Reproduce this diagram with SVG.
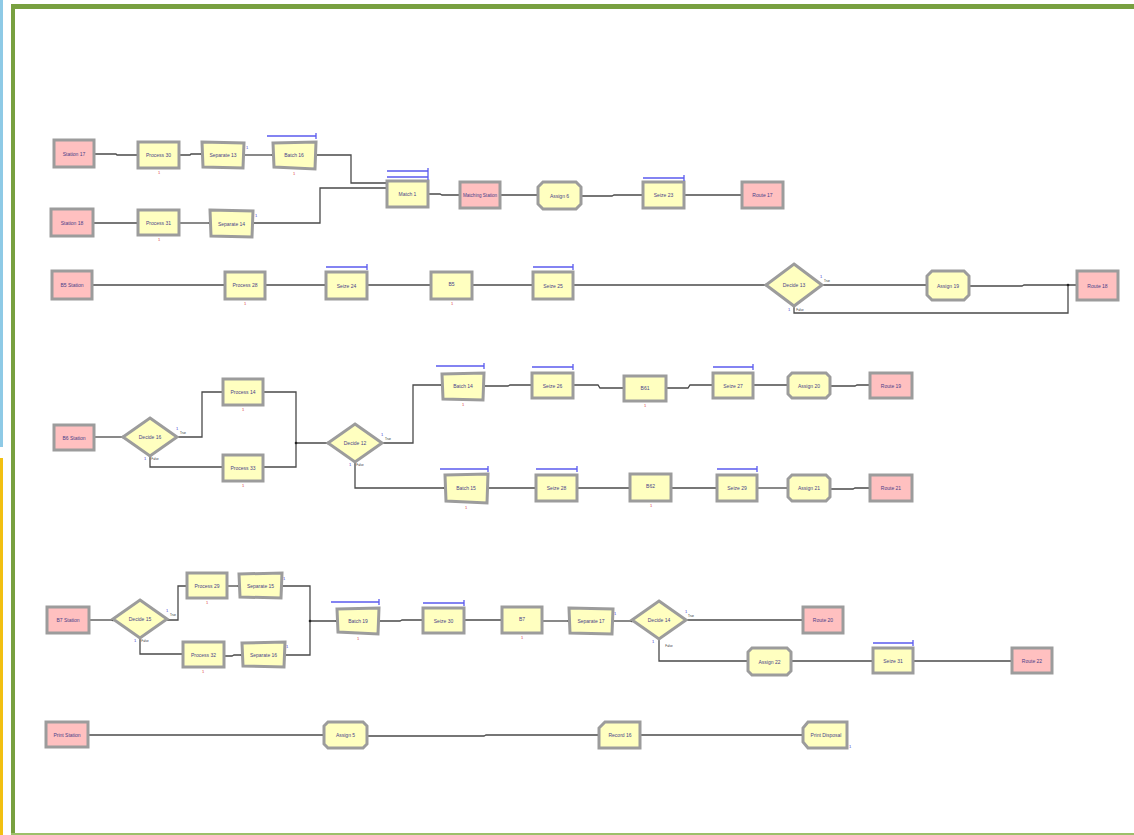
<svg xmlns="http://www.w3.org/2000/svg" width="1134" height="835" viewBox="0 0 1134 835">
<style>
.y{fill:#ffffc0;stroke:#9c9c9c;stroke-width:3}
.p{fill:#ffc0c0;stroke:#9c9c9c;stroke-width:3}
.t{font-family:"Liberation Sans",Arial,sans-serif;font-size:5px;fill:#4a3f88;text-anchor:middle;dominant-baseline:central}
.c{fill:none;stroke:#4a4a4a;stroke-width:1.3;marker-end:url(#dot)}
.q{fill:none;stroke:#5a5aee;stroke-width:1.3}
.r{font-family:"Liberation Sans",Arial,sans-serif;font-size:4px;fill:#e04040;text-anchor:middle}
.b{font-family:"Liberation Sans",Arial,sans-serif;font-size:4px;fill:#4040cc;text-anchor:middle}
.s{font-family:"Liberation Sans",Arial,sans-serif;font-size:3px;fill:#333;text-anchor:middle}
</style>
<defs>
<marker id="dot" markerUnits="userSpaceOnUse" markerWidth="4" markerHeight="4" refX="2" refY="2"><circle cx="2" cy="2" r="1.3" fill="#222"/></marker>
</defs>
<rect width="1134" height="835" fill="#ffffff"/>
<g id="frame">
<rect x="0" y="0" width="3" height="447" fill="#8ecae6"/>
<rect x="0" y="458" width="3" height="377" fill="#f2c012"/>
<rect x="11" y="4" width="1123" height="5" fill="#78a040"/>
<rect x="11" y="4" width="4" height="831" fill="#78a040"/>
<rect x="11" y="833" width="1123" height="2" fill="#9cc06a"/>
</g>
<g id="connectors">
<path class="c" d="M94,154 H116 L117,155 H138"/>
<path class="c" d="M179,155 H190 L191,154 H202"/>
<path class="c" d="M244,155 H273"/>
<path class="c" d="M316,155 H351 V183 H387"/>
<path class="c" d="M93,223 H138"/>
<path class="c" d="M179,223 H210"/>
<path class="c" d="M253,223 H320 V188 H387"/>
<path class="c" d="M428,194 H440 L442,195 H460"/>
<path class="c" d="M500,195 H538"/>
<path class="c" d="M581,196 H612 L614,195 H643"/>
<path class="c" d="M684,195 H742"/>
<path class="c" d="M92,285 H225"/>
<path class="c" d="M265,285 H326"/>
<path class="c" d="M367,285 H431"/>
<path class="c" d="M472,285 H533"/>
<path class="c" d="M573,285 H766"/>
<path class="c" d="M822,285 H927"/>
<path class="c" d="M969,286 H1022 L1024,285 H1077"/>
<path class="c" d="M794,306 V313 H1068 V285"/>
<path class="c" d="M94,437 H123"/>
<path class="c" d="M177,437 H202 V392 H223"/>
<path class="c" d="M150,456 V467 H223"/>
<path class="c" d="M263,392 H296 V443 H328"/>
<path class="c" d="M263,467 H296 V443"/>
<path class="c" d="M382,443 H413 V385 H442"/>
<path class="c" d="M355,462 V488 H445"/>
<path class="c" d="M484,386 H508 L510,385 H532"/>
<path class="c" d="M573,385 H598 L600,388 H624"/>
<path class="c" d="M666,388 H688 L690,385 H713"/>
<path class="c" d="M753,385 H788"/>
<path class="c" d="M830,386 H855 L857,385 H870"/>
<path class="c" d="M488,488 H536"/>
<path class="c" d="M577,488 H630"/>
<path class="c" d="M671,488 H717"/>
<path class="c" d="M757,488 H788"/>
<path class="c" d="M830,489 H853 L855,488 H870"/>
<path class="c" d="M89,620 H113"/>
<path class="c" d="M167,620 H178 V586 H187"/>
<path class="c" d="M140,638 V654 H183"/>
<path class="c" d="M227,586 H239"/>
<path class="c" d="M224,656 H232 L234,655 H242"/>
<path class="c" d="M282,586 H310 V621 H337"/>
<path class="c" d="M285,655 H310 V621"/>
<path class="c" d="M379,621 H400 L402,620 H423"/>
<path class="c" d="M464,620 H502"/>
<path class="c" d="M542,621 H569"/>
<path class="c" d="M613,621 H632"/>
<path class="c" d="M686,620 H803"/>
<path class="c" d="M659,639 V661 H748"/>
<path class="c" d="M791,661 H873"/>
<path class="c" d="M913,661 H1012"/>
<path class="c" d="M88,735 H324"/>
<path class="c" d="M367,736 H484 L486,735 H599"/>
<path class="c" d="M640,735 H803"/>
</g>
<g id="station17"><rect class="p" x="54" y="140" width="40" height="27"/><text class="t" x="74" y="154">Station 17</text></g>
<g id="process30"><rect class="y" x="138" y="142" width="41" height="26"/><text class="t" x="158.5" y="155">Process 30</text><text class="r" x="159" y="174">1</text></g>
<g id="separate13"><polygon class="y" points="202,142 244,143 243,168 203,167"/><text class="t" x="223" y="155">Separate 13</text><text class="b" x="247" y="149">1</text></g>
<g id="batch16"><polygon class="y" points="273,143 316,142 315,169 274,167"/><text class="t" x="294" y="155">Batch 16</text><line class="q" x1="267" y1="136" x2="316" y2="136"/><line class="q" x1="316" y1="133" x2="316" y2="139"/><text class="r" x="294" y="175">1</text></g>
<g id="station18"><rect class="p" x="51" y="209" width="42" height="27"/><text class="t" x="72" y="223">Station 18</text></g>
<g id="process31"><rect class="y" x="138" y="210" width="41" height="25"/><text class="t" x="158.5" y="222.5">Process 31</text><text class="r" x="159" y="241">1</text></g>
<g id="separate14"><polygon class="y" points="210,210 253,211 252,237 211,236"/><text class="t" x="231.5" y="223.5">Separate 14</text><text class="b" x="256" y="217">1</text></g>
<g id="match1"><rect class="y" x="387" y="181" width="41" height="26"/><text class="t" x="407.5" y="194">Match 1</text><line class="q" x1="387" y1="171" x2="428" y2="171"/><line class="q" x1="387" y1="177" x2="428" y2="177"/><line class="q" x1="428" y1="168" x2="428" y2="180"/></g>
<g id="matchingStation"><rect class="p" x="460" y="182" width="40" height="26"/><text class="t" x="480" y="195" style="font-size:4.6px">Matching Station</text></g>
<g id="assign6"><polygon class="y" points="543,182 576,182 581,187 581,204 576,209 543,209 538,204 538,187"/><text class="t" x="559.5" y="195.5">Assign 6</text></g>
<g id="seize23"><rect class="y" x="643" y="182" width="41" height="26"/><text class="t" x="663.5" y="195">Seize 23</text><line class="q" x1="643" y1="178" x2="684" y2="178"/><line class="q" x1="684" y1="175" x2="684" y2="181"/></g>
<g id="route17"><rect class="p" x="742" y="182" width="41" height="26"/><text class="t" x="762.5" y="195">Route 17</text></g>
<g id="b5station"><rect class="p" x="52" y="271" width="40" height="28"/><text class="t" x="72" y="285">B5 Station</text></g>
<g id="process28"><rect class="y" x="225" y="272" width="40" height="27"/><text class="t" x="245" y="285">Process 28</text><text class="r" x="245" y="305">1</text></g>
<g id="seize24"><rect class="y" x="326" y="272" width="41" height="27"/><text class="t" x="346.5" y="285.5">Seize 24</text><line class="q" x1="326" y1="267" x2="367" y2="267"/><line class="q" x1="367" y1="264" x2="367" y2="270"/></g>
<g id="b5"><rect class="y" x="431" y="272" width="41" height="27"/><text class="t" x="451.5" y="284">B5</text><text class="r" x="452" y="305">1</text></g>
<g id="seize25"><rect class="y" x="533" y="272" width="40" height="27"/><text class="t" x="553" y="285.5">Seize 25</text><line class="q" x1="533" y1="267" x2="573" y2="267"/><line class="q" x1="573" y1="264" x2="573" y2="270"/></g>
<g id="decide13"><polygon class="y" points="794,264 822,285 794,306 766,285"/><text class="t" x="794" y="285">Decide 13</text><text class="b" x="821" y="278">1</text><text class="s" x="827" y="282">True</text><text class="b" x="789" y="311">1</text><text class="s" x="800" y="311">False</text></g>
<g id="assign19"><polygon class="y" points="932,271 964,271 969,276 969,295 964,300 932,300 927,295 927,276"/><text class="t" x="948" y="285.5">Assign 19</text></g>
<g id="route18"><rect class="p" x="1077" y="271" width="41" height="29"/><text class="t" x="1097.5" y="285.5">Route 18</text></g>
<g id="b6station"><rect class="p" x="54" y="425" width="40" height="25"/><text class="t" x="74" y="437.5">B6 Station</text></g>
<g id="decide16"><polygon class="y" points="150,418 177,437 150,456 123,437"/><text class="t" x="150" y="437">Decide 16</text><text class="b" x="177" y="430">1</text><text class="s" x="183" y="434">True</text><text class="b" x="145" y="460">1</text><text class="s" x="155" y="460">False</text></g>
<g id="process14"><rect class="y" x="223" y="379" width="40" height="26"/><text class="t" x="243" y="392">Process 14</text><text class="r" x="243" y="411">1</text></g>
<g id="process33"><rect class="y" x="223" y="455" width="40" height="26"/><text class="t" x="243" y="468">Process 33</text><text class="r" x="243" y="487">1</text></g>
<g id="decide12"><polygon class="y" points="355,424 382,443 355,462 328,443"/><text class="t" x="355" y="443">Decide 12</text><text class="b" x="382" y="436">1</text><text class="s" x="388" y="440">True</text><text class="b" x="350" y="466">1</text><text class="s" x="360" y="466">False</text></g>
<g id="batch14"><polygon class="y" points="442,374 484,373 483,400 443,399"/><text class="t" x="463" y="386">Batch 14</text><line class="q" x1="436" y1="366" x2="484" y2="366"/><line class="q" x1="484" y1="363" x2="484" y2="369"/><text class="r" x="463" y="406">1</text></g>
<g id="seize26"><rect class="y" x="532" y="373" width="41" height="25"/><text class="t" x="552.5" y="385.5">Seize 26</text><line class="q" x1="532" y1="367" x2="573" y2="367"/><line class="q" x1="573" y1="364" x2="573" y2="370"/></g>
<g id="b61"><rect class="y" x="624" y="376" width="42" height="25"/><text class="t" x="645" y="388">B61</text><text class="r" x="645" y="407">1</text></g>
<g id="seize27"><rect class="y" x="713" y="373" width="40" height="25"/><text class="t" x="733" y="385.5">Seize 27</text><line class="q" x1="713" y1="367" x2="753" y2="367"/><line class="q" x1="753" y1="364" x2="753" y2="370"/></g>
<g id="assign20"><polygon class="y" points="792,373 826,373 830,377 830,394 826,398 792,398 788,394 788,377"/><text class="t" x="809" y="385.5">Assign 20</text></g>
<g id="route19"><rect class="p" x="870" y="373" width="42" height="25"/><text class="t" x="891" y="385.5">Route 19</text></g>
<g id="batch15"><polygon class="y" points="445,475 488,474 487,503 446,501"/><text class="t" x="466" y="488">Batch 15</text><line class="q" x1="440" y1="469" x2="488" y2="469"/><line class="q" x1="488" y1="466" x2="488" y2="472"/><text class="r" x="466" y="509">1</text></g>
<g id="seize28"><rect class="y" x="536" y="475" width="41" height="26"/><text class="t" x="556.5" y="488">Seize 28</text><line class="q" x1="536" y1="469" x2="577" y2="469"/><line class="q" x1="577" y1="466" x2="577" y2="472"/></g>
<g id="b62"><rect class="y" x="630" y="474" width="41" height="27"/><text class="t" x="650.5" y="486">B62</text><text class="r" x="651" y="507">1</text></g>
<g id="seize29"><rect class="y" x="717" y="475" width="40" height="26"/><text class="t" x="737" y="488">Seize 29</text><line class="q" x1="717" y1="469" x2="757" y2="469"/><line class="q" x1="757" y1="466" x2="757" y2="472"/></g>
<g id="assign21"><polygon class="y" points="792,475 826,475 830,479 830,497 826,501 792,501 788,497 788,479"/><text class="t" x="809" y="488">Assign 21</text></g>
<g id="route21"><rect class="p" x="870" y="475" width="42" height="26"/><text class="t" x="891" y="488">Route 21</text></g>
<g id="b7station"><rect class="p" x="47" y="607" width="42" height="26"/><text class="t" x="68" y="620">B7 Station</text></g>
<g id="decide15"><polygon class="y" points="140,600 167,619 140,638 113,619"/><text class="t" x="140" y="619">Decide 15</text><text class="b" x="167" y="612">1</text><text class="s" x="173" y="616">True</text><text class="b" x="135" y="642">1</text><text class="s" x="145" y="642">False</text></g>
<g id="process29"><rect class="y" x="187" y="573" width="40" height="25"/><text class="t" x="207" y="585.5">Process 29</text><text class="r" x="207" y="604">1</text></g>
<g id="separate15"><polygon class="y" points="239,574 282,573 281,598 240,597"/><text class="t" x="260.5" y="586">Separate 15</text><text class="b" x="284" y="580">1</text></g>
<g id="process32"><rect class="y" x="183" y="642" width="41" height="25"/><text class="t" x="203.5" y="654.5">Process 32</text><text class="r" x="203" y="673">1</text></g>
<g id="separate16"><polygon class="y" points="242,643 285,642 284,667 243,666"/><text class="t" x="263.5" y="655">Separate 16</text><text class="b" x="287" y="648">1</text></g>
<g id="batch19"><polygon class="y" points="337,609 379,608 378,634 338,632"/><text class="t" x="358" y="621">Batch 19</text><line class="q" x1="331" y1="602" x2="379" y2="602"/><line class="q" x1="379" y1="599" x2="379" y2="605"/><text class="r" x="358" y="640">1</text></g>
<g id="seize30"><rect class="y" x="423" y="608" width="41" height="25"/><text class="t" x="443.5" y="620.5">Seize 30</text><line class="q" x1="423" y1="603" x2="464" y2="603"/><line class="q" x1="464" y1="600" x2="464" y2="606"/></g>
<g id="b7"><rect class="y" x="502" y="607" width="40" height="26"/><text class="t" x="522" y="619">B7</text><text class="r" x="522" y="639">1</text></g>
<g id="separate17"><polygon class="y" points="569,608 613,609 612,634 570,633"/><text class="t" x="591" y="621">Separate 17</text><text class="b" x="615" y="615">1</text></g>
<g id="decide14"><polygon class="y" points="659,601 686,620 659,639 632,620"/><text class="t" x="659" y="620">Decide 14</text><text class="b" x="686" y="613">1</text><text class="s" x="691" y="617">True</text><text class="b" x="653" y="643">1</text><text class="s" x="669" y="647">False</text></g>
<g id="route20"><rect class="p" x="803" y="607" width="40" height="26"/><text class="t" x="823" y="620">Route 20</text></g>
<g id="assign22"><polygon class="y" points="752,648 787,648 791,652 791,671 787,675 752,675 748,671 748,652"/><text class="t" x="769.5" y="661.5">Assign 22</text></g>
<g id="seize31"><rect class="y" x="873" y="648" width="40" height="25"/><text class="t" x="893" y="660.5">Seize 31</text><line class="q" x1="873" y1="643" x2="913" y2="643"/><line class="q" x1="913" y1="640" x2="913" y2="646"/></g>
<g id="route22"><rect class="p" x="1012" y="648" width="40" height="25"/><text class="t" x="1032" y="660.5">Route 22</text></g>
<g id="printStation"><rect class="p" x="46" y="722" width="42" height="25"/><text class="t" x="67" y="734.5">Print Station</text></g>
<g id="assign5"><polygon class="y" points="328,722 363,722 367,726 367,744 363,748 328,748 324,744 324,726"/><text class="t" x="345.5" y="735">Assign 5</text></g>
<g id="record16"><polygon class="y" points="605,722 640,722 640,748 599,748 599,728"/><text class="t" x="620" y="735">Record 16</text></g>
<g id="printDisposal"><polygon class="y" points="808,722 847,722 847,748 808,748 803,742 803,728"/><text class="t" x="826" y="735">Print Disposal</text><text class="b" x="850" y="748">1</text></g>
</svg>
